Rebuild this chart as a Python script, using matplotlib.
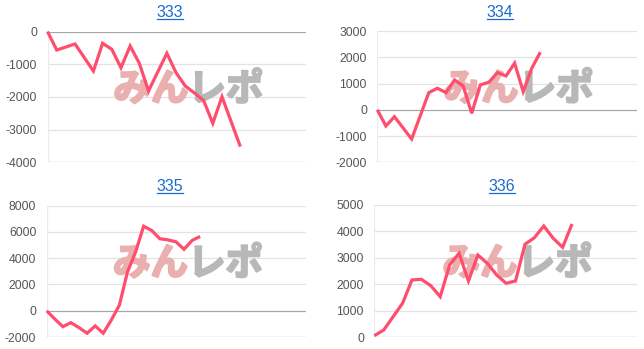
import matplotlib
matplotlib.use("Agg")
import matplotlib.pyplot as plt
from matplotlib.lines import Line2D
import matplotlib.patheffects as pe
import numpy as np

# ---- data ----
titles = ["333", "334", "335", "336"]
vals_333 = [0, -566, -474, -382, -795, -1208, -361, -544, -1107, -443, -972, -1820,
            -1240, -667, -1260, -1667, -1880, -2110, -2807, -1994, -2757, -3520]
vals_334 = [0, -618, -263, -689, -1115, -231, 653, 820, 653, 1137, 908, -134,
            947, 1050, 1416, 1290, 1775, 691, 1584, 2195]
vals_335 = [0, -630, -1212, -909, -1288, -1712, -1159, -1712, -705, 432, 2955, 4470,
            6440, 6114, 5485, 5400, 5250, 4680, 5356, 5660]
vals_336 = [60, 276, 779, 1285, 2166, 2192, 1950, 1534, 2732, 3175, 2128, 3110,
            2797, 2355, 2041, 2128, 3515, 3764, 4206, 3741, 3401, 4282]
series = [vals_333, vals_334, vals_335, vals_336]
x_spans = [28.15, 30.2, 32.1, 27.9]
y_ranges = [(-4000, 0), (-2000, 3000), (-2000, 8000), (0, 5000)]
y_steps = [1000, 1000, 2000, 1000]

W, H = 644, 349
fig = plt.figure(figsize=(W / 100, H / 100), dpi=100)

# plot rectangles in pixels: left, right, top, bottom
rects = [(47.5, 306, 31.5, 162.3), (377.3, 636.5, 31, 162.3),
         (46.7, 306, 205.7, 337), (374.3, 637, 205, 337.3)]
title_pos = [(170, 12.5), (500, 12.5), (170, 186.5), (502, 186.5)]

LINE_COLOR = "#ff4d6d"
FONT = ["Liberation Sans", "DejaVu Sans"]
JP = ["Noto Sans CJK JP", "DejaVu Sans"]

title_texts = []
for i in range(4):
    l, r, t, b = rects[i]
    ax = fig.add_axes([l / W, 1 - b / H, (r - l) / W, (b - t) / H])
    vals = series[i]
    x = np.arange(len(vals))
    ax.plot(x, vals, color=LINE_COLOR, lw=2.3, solid_joinstyle="miter",
            solid_capstyle="butt", clip_on=False, zorder=5)
    ax.set_xlim(0, x_spans[i])
    lo, hi = y_ranges[i]
    ax.set_ylim(lo, hi)
    ticks = np.arange(lo, hi + 1, y_steps[i])
    ax.set_yticks(ticks)
    ax.set_yticklabels([str(int(v)) for v in ticks])
    ax.set_xticks([])
    for tv in ticks:
        if tv == 0 or tv == lo:
            ax.axhline(tv, color="#a8a8a8", lw=0.9, zorder=2)
        else:
            ax.axhline(tv, color="#e3e3e3", lw=0.9, zorder=1)
    ax.axvline(0, color="#ececec", lw=0.9, zorder=1)
    for s in ax.spines.values():
        s.set_visible(False)
    ax.tick_params(axis="y", length=0, pad=7.5, labelsize=8.7, labelcolor="#555555")
    for lab in ax.get_yticklabels():
        lab.set_family(FONT)
    # watermark logo
    ax.text(0.545, 0.56, "みん", transform=ax.transAxes, ha="right", va="center",
            fontsize=27, fontweight="bold", color="#eab0b0",
            family=JP, zorder=3,
            path_effects=[pe.withStroke(linewidth=1.6, foreground="#eab0b0")])
    ax.text(0.545, 0.56, "レポ", transform=ax.transAxes, ha="left", va="center",
            fontsize=27, fontweight="bold", color="#b8b8b8",
            family=JP, zorder=3,
            path_effects=[pe.withStroke(linewidth=1.6, foreground="#b8b8b8")])
    tx, ty = title_pos[i]
    tt = fig.text(tx / W, 1 - ty / H, titles[i], ha="center", va="center",
                  fontsize=11.5, color="#1a6bd1", family=FONT)
    title_texts.append(tt)

fig.canvas.draw()
renderer = fig.canvas.get_renderer()
for tt in title_texts:
    bb = tt.get_window_extent(renderer)
    yline = bb.y0 + 1.5
    fig.add_artist(Line2D([bb.x0 / W, bb.x1 / W], [yline / H, yline / H],
                          transform=fig.transFigure, color="#1a6bd1", lw=0.9))

fig.savefig("out.png", dpi=100)
